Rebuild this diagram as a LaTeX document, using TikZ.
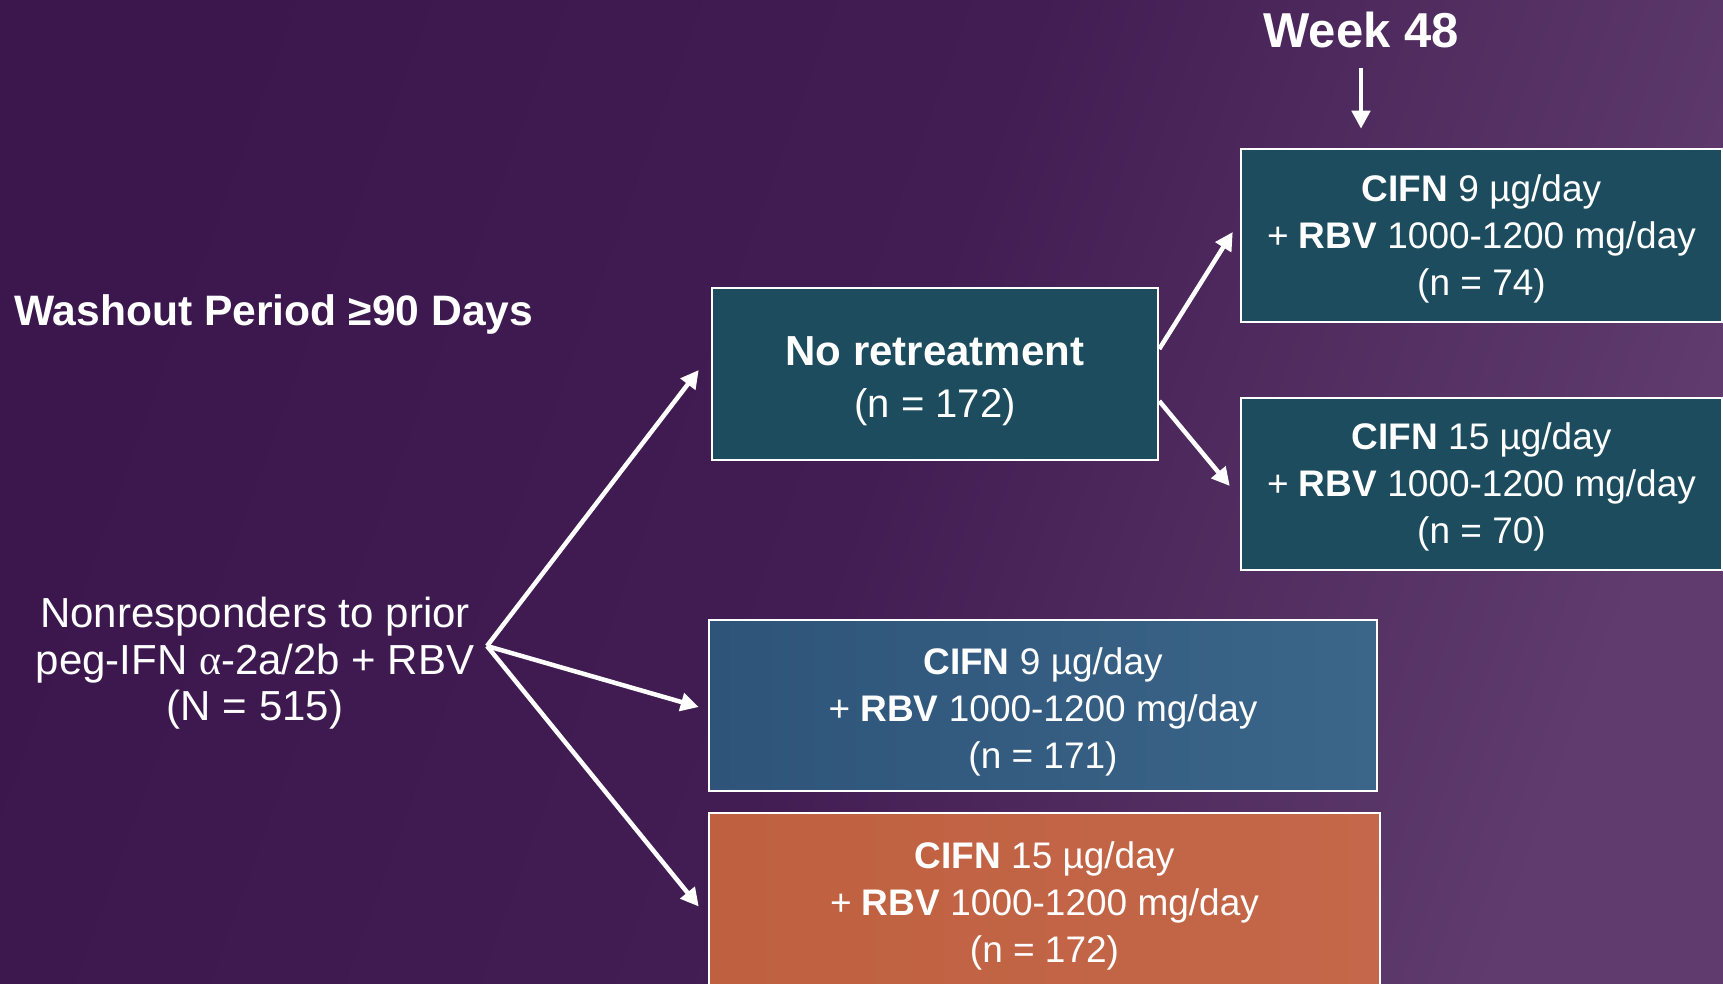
\documentclass[tikz,border=0pt]{standalone}
\usepackage{fontspec}
\setmainfont{Liberation Sans}
\newfontfamily\grk{Liberation Serif}
\usetikzlibrary{arrows.meta}
\definecolor{bgA}{HTML}{3B174D}
\definecolor{bgM}{HTML}{421D53}
\definecolor{bgB}{HTML}{5F3C6D}
\definecolor{tealbox}{HTML}{1C4C5E}
\definecolor{blueA}{HTML}{2E5479}
\definecolor{blueB}{HTML}{3B6689}
\definecolor{orangeA}{HTML}{BF6140}
\definecolor{orangeB}{HTML}{C4674A}
\newcommand{\boxtext}[2]{\raisebox{#1}[\height][\depth]{\begin{tabular}{@{}c@{}}#2\end{tabular}}}
\tikzset{
  armbox/.style={draw=white, line width=2.5pt, text=white, inner sep=0pt,
    font=\fontsize{37}{47}\selectfont},
  arr/.style={draw=white, line width=4.5pt, -{Triangle[length=18pt,width=18pt]}},
  plain/.style={text=white, inner sep=0pt, align=center}
}
\begin{document}
\begin{tikzpicture}[x=1pt,y=-1pt]
\useasboundingbox (0,0) rectangle (1723,984);
\shade[left color=bgA, right color=bgB, middle color=bgM, shading angle=70] (0,0) rectangle (1723,984);

% boxes
\node[armbox, fill=tealbox, minimum width=481pt, minimum height=173pt] (b1) at (1481.5,235.5)
  {\boxtext{-4pt}{\textbf{CIFN} 9 µg/day\\+ \textbf{RBV} 1000-1200 mg/day\\(n = 74)}};
\node[armbox, fill=tealbox, minimum width=481pt, minimum height=172pt] (b3) at (1481.5,484)
  {\boxtext{-3pt}{\textbf{CIFN} 15 µg/day\\+ \textbf{RBV} 1000-1200 mg/day\\(n = 70)}};
\node[armbox, fill=tealbox, minimum width=446pt, minimum height=172pt, font=\fontsize{40}{52}\selectfont] (b2) at (935,374)
  {\boxtext{-7pt}{{\fontsize{42}{52}\selectfont\bfseries No retreatment}\\(n = 172)}};
\node[armbox, left color=blueA, right color=blueB, minimum width=668pt, minimum height=171pt] (b4) at (1043,705.5)
  {\boxtext{-7pt}{\textbf{CIFN} 9 µg/day\\+ \textbf{RBV} 1000-1200 mg/day\\(n = 171)}};
\node[armbox, left color=orangeA, right color=orangeB, minimum width=671pt, minimum height=187pt] (b5) at (1044.5,906.5)
  {\boxtext{0pt}{\textbf{CIFN} 15 µg/day\\+ \textbf{RBV} 1000-1200 mg/day\\(n = 172)}};

% texts
\node[plain, font=\bfseries\fontsize{49}{55}\selectfont] (wk) at (1361,30) {Week 48};
\node[plain, anchor=base west, font=\bfseries\fontsize{42.6}{50}\selectfont] (wash) at (14,325) {Washout Period ≥90 Days};
\node[plain, font=\fontsize{42}{46.5}\selectfont] (nr) at (255,663.5)
  {Nonresponders to prior\\peg-IFN {\grk α}-2a/2b + RBV\\(N = 515)};

% connectors
\coordinate (src) at (487,646);
\draw[arr] (src) -- ([xshift=-12pt,yshift=4pt]b2.west);
\draw[arr] (src) -- ([xshift=-9pt,yshift=-1.5pt]b4.west);
\draw[arr] (src) -- ([xshift=-9pt]b5.west);
\draw[arr] ([yshift=25pt]b2.east) -- ([xshift=-7pt,yshift=3.5pt]b1.west);
\draw[arr] ([yshift=-27pt]b2.east) -- ([xshift=-10pt,yshift=-2pt]b3.west);
\draw[arr] ([yshift=-20pt]wk.south) -- ([yshift=19pt]b1.north -| wk.south);
\end{tikzpicture}
\end{document}
